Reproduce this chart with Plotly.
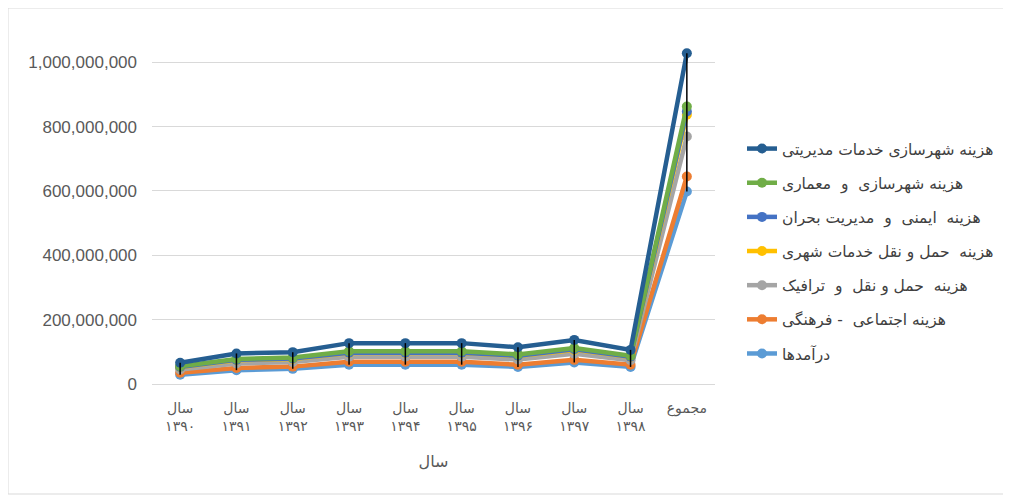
import plotly.graph_objects as go

categories = ["سال<br>۱۳۹۰", "سال<br>۱۳۹۱", "سال<br>۱۳۹۲", "سال<br>۱۳۹۳", "سال<br>۱۳۹۴",
              "سال<br>۱۳۹۵", "سال<br>۱۳۹۶", "سال<br>۱۳۹۷", "سال<br>۱۳۹۸", "مجموع"]

revenue = [29e6, 43e6, 47e6, 60e6, 60e6, 60e6, 53e6, 67e6, 53e6, 598e6]
social_cultural = [35e6, 50e6, 54e6, 69e6, 69e6, 69e6, 60e6, 75e6, 60e6, 645e6]
transport_traffic = [45e6, 64e6, 68e6, 85e6, 85e6, 85e6, 76e6, 94e6, 74e6, 769e6]
transport_services = [52e6, 74e6, 78e6, 96e6, 96e6, 96e6, 87e6, 106e6, 84e6, 837e6]
safety_crisis = [53e6, 75e6, 79e6, 97e6, 97e6, 97e6, 88e6, 108e6, 85e6, 847e6]
urban_architecture = [55e6, 78e6, 82e6, 102e6, 102e6, 102e6, 92e6, 112e6, 88e6, 862e6]
urban_management = [66e6, 95e6, 99e6, 127e6, 127e6, 127e6, 114e6, 137e6, 106e6, 1028e6]

series = [
    ("درآمدها", revenue, "#5B9BD5"),
    ("هزینه اجتماعی  - فرهنگی", social_cultural, "#ED7D31"),
    ("هزینه  حمل و نقل  و  ترافیک", transport_traffic, "#A5A5A5"),
    ("هزینه  حمل و نقل خدمات شهری", transport_services, "#FFC000"),
    ("هزینه  ایمنی  و  مدیریت بحران", safety_crisis, "#4472C4"),
    ("هزینه شهرسازی  و  معماری", urban_architecture, "#70AD47"),
    ("هزینه شهرسازی خدمات مدیریتی", urban_management, "#255E91"),
]

fig = go.Figure()
n = len(series)
for i, (name, vals, color) in enumerate(series):
    fig.add_trace(go.Scatter(
        x=categories, y=vals, name=name, mode="lines+markers",
        line=dict(color=color, width=4.5),
        marker=dict(color=color, size=10),
        legendgroup=f"g{i}", legendrank=n - i,
    ))

# high-low lines
hx, hy = [], []
for j, c in enumerate(categories):
    col = [s[1][j] for s in series]
    hx += [c, c, None]
    hy += [max(col), min(col), None]
fig.add_trace(go.Scatter(x=hx, y=hy, mode="lines", line=dict(color="#000000", width=1.5),
                         showlegend=False, hoverinfo="skip"))

# figure is placed at an 8px page offset
W, H = 1003, 490
L, R, T, B = 144, 296, 22, 114
pw = W - L - R
ph = H - T - B

fig.update_layout(
    width=W, height=H,
    margin=dict(l=L, r=R, t=T, b=B),
    paper_bgcolor="white", plot_bgcolor="white",
    font=dict(family="DejaVu Sans, Liberation Sans, sans-serif", color="#595959", size=13),
    showlegend=True,
    legend=dict(
        x=(734 - L) / pw, y=(H - B - 124) / ph, xanchor="left", yanchor="top",
        traceorder="grouped", tracegroupgap=11,
        font=dict(size=15.5, color="#404040", family="DejaVu Sans, sans-serif"),
        bgcolor="rgba(0,0,0,0)",
    ),
    xaxis=dict(
        type="category", showgrid=False, showline=False, ticks="",
        tickfont=dict(size=14, color="#595959"), ticklabelstandoff=14,
        title=dict(text="سال", font=dict(size=16, color="#595959"), standoff=22),
        range=[-0.5, 9.5],
    ),
    yaxis=dict(
        range=[0, 1.1e9], tickvals=[0, 2e8, 4e8, 6e8, 8e8, 1e9],
        tickformat=",d", showgrid=True, gridcolor="#D9D9D9", gridwidth=1,
        zeroline=True, zerolinecolor="#D9D9D9", zerolinewidth=1,
        showline=False, ticks="", ticklabelstandoff=14,
        tickfont=dict(size=17, color="#595959", family="Liberation Sans, Open Sans, sans-serif"),
    ),
    shapes=[dict(
        type="rect", xref="paper", yref="paper",
        x0=(0 - L) / pw, x1=(1000 - L) / pw,
        y0=(H - B - 486) / ph, y1=(H - B - 0) / ph,
        line=dict(color="#D9D9D9", width=1), layer="below",
    )],
)

fig.write_html("out.html")
